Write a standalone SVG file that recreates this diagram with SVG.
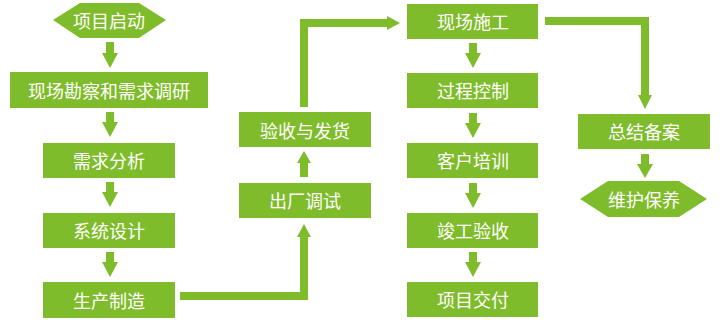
<svg xmlns="http://www.w3.org/2000/svg" width="720" height="320" viewBox="0 0 720 320">
<defs>
<style>
.n{fill:#7fbc2b}
.t{fill:#fff;font-family:"Noto Sans CJK SC","Noto Sans",sans-serif;font-size:18px;text-anchor:middle;dominant-baseline:central}
.a{fill:#7fbc2b}
.l{fill:none;stroke:#7fbc2b;stroke-width:8}
</style>
</defs>
<rect width="720" height="320" fill="#fff"/>
<g id="connectors">
<!-- left column down arrows -->
<path class="a" d="M106,42h8v11h4l-8,15l-8,-15h4z"/>
<path class="a" d="M106,112h8v10h4l-8,15l-8,-15h4z"/>
<path class="a" d="M106,182h8v10h4l-8,15l-8,-15h4z"/>
<path class="a" d="M106,252h8v10h4l-8,15l-8,-15h4z"/>
<!-- 生产制造 -> 出厂调试 -->
<path class="l" d="M180,296H304V236"/>
<path class="a" d="M297,237l7,-13l7,13z"/>
<!-- 出厂调试 -> 验收与发货 -->
<path class="a" d="M300,177v-14h-3l7,-12l7,12h-3v14z"/>
<!-- 验收与发货 -> 现场施工 -->
<path class="l" d="M304,107V23H388"/>
<path class="a" d="M387,16l13,7l-13,7z"/>
<!-- right column down arrows -->
<path class="a" d="M469,43h8v10h4l-8,15l-8,-15h4z"/>
<path class="a" d="M469,113h8v10h4l-8,15l-8,-15h4z"/>
<path class="a" d="M469,183h8v10h4l-8,15l-8,-15h4z"/>
<path class="a" d="M469,252h8v10h4l-8,15l-8,-15h4z"/>
<!-- 现场施工 -> 总结备案 -->
<path class="l" d="M545,21H645V96"/>
<path class="a" d="M638,95h14l-7,14z"/>
<!-- 总结备案 -> 维护保养 -->
<path class="a" d="M641,154h8v10h4l-8,14l-8,-14h4z"/>
</g>
<g id="n1"><polygon class="n" points="53,20 80,3 139,3 166,20 139,38 80,38"/><text class="t" x="109" y="20">项目启动</text></g>
<g id="n2"><rect class="n" x="10" y="72" width="198" height="36"/><text class="t" x="109" y="90">现场勘察和需求调研</text></g>
<g id="n3"><rect class="n" x="43" y="143" width="132" height="35"/><text class="t" x="109" y="160">需求分析</text></g>
<g id="n4"><rect class="n" x="43" y="213" width="132" height="35"/><text class="t" x="109" y="230">系统设计</text></g>
<g id="n5"><rect class="n" x="43" y="282" width="132" height="36"/><text class="t" x="109" y="300">生产制造</text></g>
<g id="n6"><rect class="n" x="239" y="183" width="132" height="35"/><text class="t" x="305" y="200">出厂调试</text></g>
<g id="n7"><rect class="n" x="239" y="112" width="132" height="35"/><text class="t" x="305" y="130">验收与发货</text></g>
<g id="n8"><rect class="n" x="407" y="4" width="131" height="35"/><text class="t" x="473" y="21">现场施工</text></g>
<g id="n9"><rect class="n" x="407" y="73" width="131" height="35"/><text class="t" x="473" y="90">过程控制</text></g>
<g id="n10"><rect class="n" x="407" y="143" width="131" height="35"/><text class="t" x="473" y="160">客户培训</text></g>
<g id="n11"><rect class="n" x="407" y="213" width="131" height="35"/><text class="t" x="473" y="230">竣工验收</text></g>
<g id="n12"><rect class="n" x="407" y="282" width="131" height="35"/><text class="t" x="473" y="299">项目交付</text></g>
<g id="n13"><rect class="n" x="578" y="114" width="132" height="35"/><text class="t" x="644" y="131">总结备案</text></g>
<g id="n14"><polygon class="n" points="580,199 608,181 679,181 707,199 679,217 608,217"/><text class="t" x="644" y="199">维护保养</text></g>
</svg>
